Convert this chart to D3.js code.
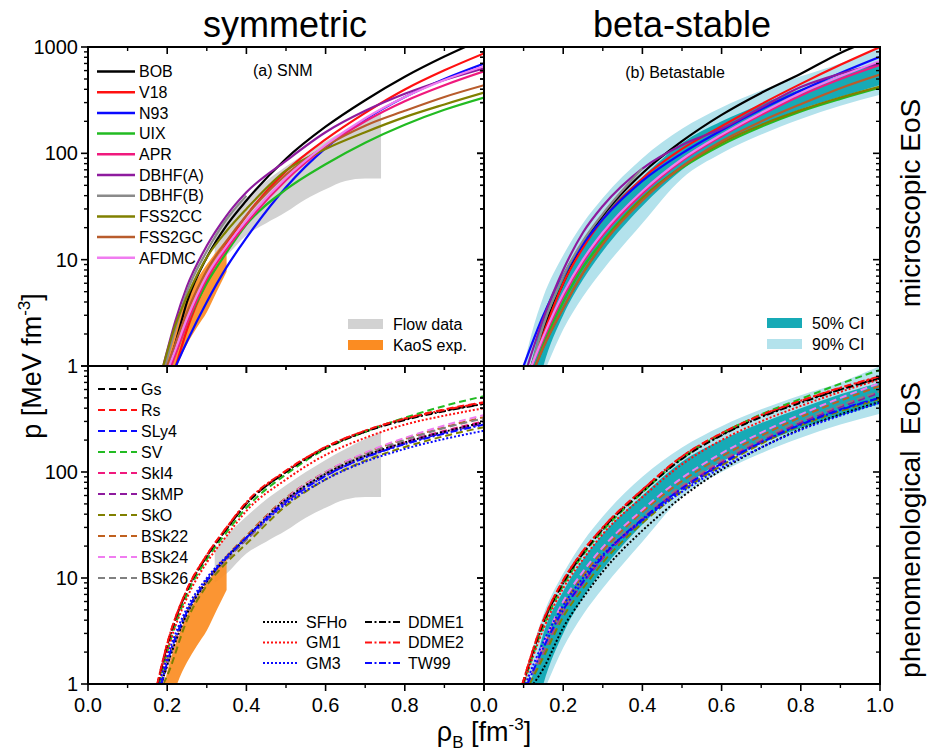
<!DOCTYPE html>
<html><head><meta charset="utf-8">
<script src="https://cdn.jsdelivr.net/npm/d3@7"></script>
<style>body{margin:0;background:#fff}svg{display:block;font-family:"Liberation Sans",Arial,sans-serif}</style>
</head><body><svg id="c" width="929" height="753"></svg>
<script>
// ---------------- DATA ----------------
const xTickLabelsLeft = ["0.0","0.2","0.4","0.6","0.8"];
const xTickLabelsRight = ["0.0","0.2","0.4","0.6","0.8","1.0"];
const yTickLabelsTop = ["1","10","100","1000"];
const yTickLabelsBottom = ["1","10","100"];

// microscopic EoS
const microNames  = ["BOB","V18","N93","UIX","APR","DBHF(A)","DBHF(B)","FSS2CC","FSS2GC","AFDMC"];
const microColors = ["#000000","#ff1010","#0a0aff","#22bb22","#f0197d","#8e1b9e","#8a8a8a","#808000","#b85c2c","#f07cf0"];
// symmetric nuclear matter: density where p = 1, then p on snmGrid
const snmGrid = [0.22,0.25,0.3,0.35,0.4,0.5,0.6,0.7,0.8,0.9,1.0];
const microStartSNM = [0.203,0.222,0.222,0.205,0.21,0.19,0.195,0.19,0.2,0.205];
const microSNM = [
  [1.6,4,10.5,21,36,89,178,316,525,813,1200],
  [null,2.2,6.3,14,26,68,135,240,398,603,870],
  [null,1.7,4,8.5,16,48,112,209,339,501,700],
  [1.3,2.5,6,11.7,21.4,45.7,79,126,186,257,335],
  [1.26,2.5,6.6,12.6,22,56,115,200,309,437,590],
  [2.6,5.6,13.5,26,43,85,158,251,363,490,630],
  [2.2,5,12,24,40,null,null,null,null,null,null],
  [2.4,4.5,10.5,18.6,30,69,110,158,219,288,372],
  [1.6,3.2,7.9,15,26,63,117,182,251,339,437],
  [1.4,2.8,7.1,13.5,23.4,59,120,214,339,490,660]
];
// beta-stable matter
const betaGrid = [0.15,0.2,0.25,0.3,0.4,0.5,0.6,0.7,0.8,0.9,1.0];
const microStartBeta = [0.12,0.12,0.10,0.13,0.12,0.11,0.12,0.13,0.13,0.12];
const microBeta = [
  [2.2,6,14,26,65,130,230,370,560,880,1250],
  [2.0,6,13,24,58,110,180,290,450,680,1000],
  [3,7,14,24,55,100,165,260,390,570,810],
  [1.6,4,8.5,15,38,73,120,178,248,325,415],
  [1.8,4.5,9.5,17,42,85,145,230,350,500,680],
  [2.8,8,18,32,72,120,170,270,420,560,700],
  [2.4,7,15,27,72,null,null,null,null,null,null],
  [1.5,3.5,7.5,14,38,75,125,185,255,335,425],
  [1.5,3.5,7.5,14,36,75,130,200,290,410,550],
  [1.9,4.8,10,18,44,88,150,240,370,530,740]
];

// phenomenological EoS
const phenNames  = ["Gs","Rs","SLy4","SV","SkI4","SkMP","SkO","BSk22","BSk24","BSk26","SFHo","GM1","GM3","DDME1","DDME2","TW99"];
const phenColors = ["#000000","#ff1010","#0a0aff","#22bb22","#f0197d","#8e1b9e","#808000","#c0601e","#f07cf0","#808080","#000000","#ff1010","#0a0aff","#000000","#ff1010","#0a0aff"];
const phenStyles = ["dash","dash","dash","dash","dash","dash","dash","dash","dash","dash","dot","dot","dot","dashdot","dashdot","dashdot"];
const phenSnmGrid = [0.2,0.25,0.3,0.35,0.4,0.5,0.6,0.7,0.8,0.9,1.0];
const phenStartSNM = [0.176,0.175,0.185,0.18,0.185,0.185,0.19,0.185,0.187,0.186,0.185,0.18,0.18,0.176,0.175,0.185];
const phenSNM = [
  [2.3,7.5,16,29,50,100,170,240,315,380,440],
  [2.4,7.8,16.5,30,51,102,172,245,320,390,455],
  [1.6,4.8,9.5,15.5,23,52,92,138,185,235,285],
  [2.0,7,15,27,46,95,165,240,325,420,520],
  [1.5,4.6,9.2,15,23,53,95,143,192,245,300],
  [1.6,4.8,9.5,15.5,24,54,95,142,190,240,290],
  [1.2,4,8.5,14,21,48,85,128,172,218,265],
  [1.6,4.8,9.6,16,25,57,100,150,205,265,330],
  [1.5,4.6,9.2,15.5,24,56,100,152,210,275,345],
  [1.5,4.6,9.2,15,23,54,97,146,200,260,320],
  [1.5,4.6,9.3,15.5,24,55,96,142,190,240,295],
  [2.0,6.5,14,25,43,85,145,210,280,340,400],
  [1.8,5.2,10,16,24,50,85,125,165,205,245],
  [2.3,7.6,16,29,50,100,168,240,310,375,440],
  [2.4,7.8,16.5,30,52,103,172,245,318,385,450],
  [1.6,4.8,9.5,15.5,24,53,92,137,183,230,280]
];
const phenStartBeta = [0.098,0.097,0.11,0.1,0.11,0.11,0.115,0.11,0.11,0.11,0.125,0.1,0.105,0.098,0.097,0.11];
const phenBeta = [
  [3.8,9,17,29,66,135,225,335,460,600,760],
  [4,9.5,18,30,68,140,232,345,470,620,790],
  [2.2,5,9,15.5,35,68,118,190,285,390,500],
  [3.5,8.5,16.5,28,64,135,230,350,490,680,920],
  [2,4.8,9,15.5,36,72,125,200,300,420,570],
  [2.1,5,9.3,16,36,70,122,195,292,410,560],
  [1.8,4.3,8,14,33,66,115,185,275,375,490],
  [2.3,5.5,10.5,18,42,82,140,220,330,470,650],
  [2.4,6,11.5,19.5,44,88,150,235,350,500,690],
  [2.1,5,9.5,16.5,38,75,130,205,305,425,580],
  [1.4,3.4,6.5,11.5,28,58,105,170,255,350,460],
  [3.3,8,15,26,58,118,200,300,420,570,750],
  [2.5,5.5,10,16.5,35,65,110,170,250,340,450],
  [3.8,9,17,29,65,133,222,330,450,600,770],
  [4,9.5,18,30,68,140,232,345,470,625,800],
  [2.2,5,9.2,16,36,70,120,190,280,385,500]
];

// constraints (SNM)
const flowX  = [0.32,0.35,0.4,0.45,0.5,0.55,0.6,0.65,0.7,0.74];
const flowLo = [9,11,17,22,28,37,46,55,58,58];
const flowHi = [18,25,38,55,75,100,130,165,205,240];
const kaosX  = [0.19,0.2,0.225,0.25,0.275,0.3,0.325,0.35];
const kaosLo = [0.35,0.5,1.0,1.6,2.3,3.2,5,7.7];
const kaosHi = [0.9,1.3,2.6,4.4,6.5,9,12,15.5];
// credible intervals (beta-stable)
const ciX    = [0.1,0.12,0.15,0.2,0.25,0.3,0.4,0.5,0.6,0.7,0.8,0.9,1.0];
const ci90Lo = [0.3,0.5,0.85,2.2,4.5,8,22,58,100,150,210,280,355];
const ci90Hi = [1,2,4.5,11,22,38,90,170,270,390,530,700,1000];
const ci50Lo = [0.2,0.35,1,3,6.5,12,32,70,125,185,260,340,440];
const ci50Hi = [0.6,1.1,3,7.5,15,26,60,125,200,290,400,540,700];

// ---------------- DRAW ----------------
const svg = d3.select("#c");
const panels = [
  {id:"tl", x0:88,  x1:484, y0:47,  y1:366},
  {id:"tr", x0:484, x1:880, y0:47,  y1:366},
  {id:"bl", x0:88,  x1:484, y0:366, y1:684},
  {id:"br", x0:484, x1:880, y0:366, y1:684}
];
const defs = svg.append("defs");
panels.forEach(p=>{
  p.x = d3.scaleLinear().domain([0,1]).range([p.x0,p.x1]);
  p.y = d3.scaleLog().domain([1,1000]).range([p.y1,p.y0]);
  defs.append("clipPath").attr("id","clip-"+p.id).append("rect")
    .attr("x",p.x0).attr("y",p.y0).attr("width",p.x1-p.x0).attr("height",p.y1-p.y0);
  p.g = svg.append("g").attr("clip-path","url(#clip-"+p.id+")");
});
const [TL,TR,BL,BR] = panels;

function band(p, xs, lo, hi, fill, op){
  const area = d3.area().x(d=>p.x(d[0])).y0(d=>p.y(Math.max(d[1],0.05))).y1(d=>p.y(Math.max(d[2],0.05))).curve(d3.curveMonotoneX);
  p.g.append("path").datum(xs.map((x,i)=>[x,lo[i],hi[i]])).attr("d",area).attr("fill",fill).attr("opacity",op||1);
}
const dashes = {solid:null, dash:"7,4", dot:"2,2", dashdot:"7,2.5,2,2.5"};
function curve(p, grid, start, vals, color, style, w){
  const pts = [[start,1]];
  grid.forEach((x,i)=>{ if(x>start+0.004 && vals[i]!=null) pts.push([x,vals[i]]); });
  const line = d3.line().x(d=>p.x(d[0])).y(d=>p.y(d[1])).curve(d3.curveMonotoneX);
  p.g.append("path").datum(pts).attr("d",line).attr("fill","none")
    .attr("stroke",color).attr("stroke-width",w).attr("stroke-dasharray",dashes[style]);
}

// bands
[TL,BL].forEach(p=>{
  band(p, flowX, flowLo, flowHi, "#d2d2d2");
  band(p, kaosX, kaosLo, kaosHi, "#fb8c22", 0.92);
});
[TR,BR].forEach(p=>{
  band(p, ciX, ci90Lo, ci90Hi, "#b3e2ec");
  band(p, ciX, ci50Lo, ci50Hi, "#17aab6");
});

// curves
microNames.forEach((n,i)=>{
  curve(TL, snmGrid, microStartSNM[i], microSNM[i], microColors[i], "solid", 2.2);
  curve(TR, betaGrid, microStartBeta[i], microBeta[i], microColors[i], "solid", 2.2);
});
phenNames.forEach((n,i)=>{
  curve(BL, phenSnmGrid, phenStartSNM[i], phenSNM[i], phenColors[i], phenStyles[i], 2);
  curve(BR, betaGrid, phenStartBeta[i], phenBeta[i], phenColors[i], phenStyles[i], 2);
});

// frames and ticks
const xMajor = d3.range(0,1.0001,0.2), xMinor = d3.range(0.1,1,0.2);
const yMajor = [1,10,100,1000];
const yMinor = [];
[1,10,100].forEach(d=>{ for(let k=2;k<=9;k++) yMinor.push(d*k); });
const ax = svg.append("g").attr("stroke","#000").attr("fill","none");
panels.forEach(p=>{
  const tk = (x1,y1,x2,y2,w)=>ax.append("line").attr("x1",x1).attr("y1",y1).attr("x2",x2).attr("y2",y2).attr("stroke-width",w);
  xMajor.forEach(v=>{ const X=p.x(v); tk(X,p.y1,X,p.y1+7,1.6); tk(X,p.y0,X,p.y0+7,1.6); });
  xMinor.forEach(v=>{ const X=p.x(v); tk(X,p.y1,X,p.y1+4,1.4); tk(X,p.y0,X,p.y0+4,1.4); });
  yMajor.forEach(v=>{ const Y=p.y(v); tk(p.x0-7,Y,p.x0,Y,1.6); tk(p.x1-7,Y,p.x1,Y,1.6); });
  yMinor.forEach(v=>{ const Y=p.y(v); tk(p.x0-4,Y,p.x0,Y,1.4); tk(p.x1-4,Y,p.x1,Y,1.4); });
  ax.append("rect").attr("x",p.x0).attr("y",p.y0).attr("width",p.x1-p.x0).attr("height",p.y1-p.y0).attr("stroke-width",2);
});

// tick labels
const tl = svg.append("g").attr("font-size",20).attr("fill","#000");
xTickLabelsLeft.forEach((t,i)=>tl.append("text").attr("x",BL.x(+t)).attr("y",712).attr("text-anchor","middle").text(t));
xTickLabelsRight.forEach((t,i)=>tl.append("text").attr("x",BR.x(+t)).attr("y",712).attr("text-anchor","middle").text(t));
yTickLabelsTop.forEach(t=>tl.append("text").attr("x",78).attr("y",TL.y(+t)).attr("dy","0.35em").attr("text-anchor","end").text(t));
yTickLabelsBottom.forEach(t=>tl.append("text").attr("x",78).attr("y",BL.y(+t)).attr("dy","0.35em").attr("text-anchor","end").text(t));

// titles
svg.append("text").attr("x",285).attr("y",37).attr("font-size",36).attr("text-anchor","middle").text("symmetric");
svg.append("text").attr("x",682).attr("y",37).attr("font-size",36).attr("text-anchor","middle").text("beta-stable");
svg.append("text").attr("transform","translate(920,203) rotate(-90)").attr("font-size",28).attr("text-anchor","middle").text("microscopic EoS");
svg.append("text").attr("transform","translate(920,530) rotate(-90)").attr("font-size",28).attr("text-anchor","middle").attr("xml:space","preserve").text("phenomenological  EoS");
// axis labels
const yl = svg.append("text").attr("transform","translate(41,366) rotate(-90)").attr("font-size",27).attr("text-anchor","middle");
yl.append("tspan").text("p [MeV fm");
yl.append("tspan").attr("font-size",17).attr("dy",-11).text("-3");
yl.append("tspan").attr("dy",11).text("]");
const xl = svg.append("text").attr("x",484).attr("y",741).attr("font-size",27).attr("text-anchor","middle");
xl.append("tspan").text("ρ");
xl.append("tspan").attr("font-size",17).attr("dy",7).text("B");
xl.append("tspan").attr("dy",-7).text(" [fm");
xl.append("tspan").attr("font-size",17).attr("dy",-11).text("-3");
xl.append("tspan").attr("dy",11).text("]");

// panel labels
svg.append("text").attr("x",253).attr("y",76).attr("font-size",16).text("(a) SNM");
svg.append("text").attr("x",675).attr("y",78).attr("font-size",16).attr("text-anchor","middle").text("(b) Betastable");

// legends
const lg = svg.append("g").attr("font-size",16);
microNames.forEach((n,i)=>{
  const y = 71.5 + i*20.7;
  lg.append("line").attr("x1",97).attr("x2",135).attr("y1",y).attr("y2",y).attr("stroke",microColors[i]).attr("stroke-width",2.5);
  lg.append("text").attr("x",139).attr("y",y).attr("dy","0.36em").text(n);
});
phenNames.slice(0,10).forEach((n,i)=>{
  const y = 389 + i*21;
  lg.append("line").attr("x1",98).attr("x2",137).attr("y1",y).attr("y2",y).attr("stroke",phenColors[i]).attr("stroke-width",2.2).attr("stroke-dasharray",dashes[phenStyles[i]]);
  lg.append("text").attr("x",141).attr("y",y).attr("dy","0.36em").text(n);
});
phenNames.slice(10).forEach((n,j)=>{
  const i = j+10, col = Math.floor(j/3), row = j%3;
  const y = 622 + row*20.5;
  const lx = col===0 ? 263 : 365, tx = col===0 ? 306 : 408;
  lg.append("line").attr("x1",lx).attr("x2",lx+36).attr("y1",y).attr("y2",y).attr("stroke",phenColors[i]).attr("stroke-width",2.2).attr("stroke-dasharray",dashes[phenStyles[i]]);
  lg.append("text").attr("x",tx).attr("y",y).attr("dy","0.36em").text(n);
});
const bandLeg = [["Flow data","#d2d2d2",348,324],["KaoS exp.","#fb8c22",348,345],["50% CI","#17aab6",767,323],["90% CI","#b3e2ec",767,344]];
bandLeg.forEach(d=>{
  lg.append("rect").attr("x",d[2]).attr("y",d[3]-5).attr("width",35).attr("height",10).attr("fill",d[1]);
  lg.append("text").attr("x",d[2]+45).attr("y",d[3]).attr("dy","0.36em").text(d[0]);
});
</script></body></html>
